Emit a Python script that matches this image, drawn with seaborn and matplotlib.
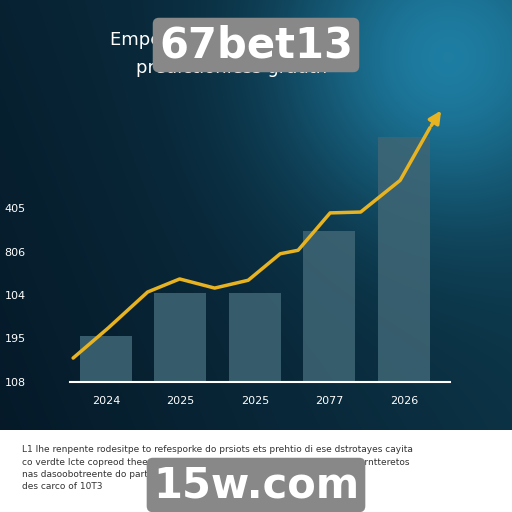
import numpy as np
import matplotlib
matplotlib.use("Agg")
import matplotlib.pyplot as plt
import seaborn as sns
import pandas as pd

sns.set_theme(style="dark")
plt.rcParams['font.family'] = ['DejaVu Sans']

# data
years = ["2024", "2025", "2025", "2077", "2026"]
bar_values = [1.06, 2.05, 2.05, 3.47, 5.63]
y_tick_labels = ["108", "195", "104", "806", "405"]
line_x = [-0.44, 0.03, 0.56, 0.99, 1.46, 1.91, 2.34, 2.58, 3.01, 3.42, 3.95, 4.35]
line_y = [0.55, 1.24, 2.07, 2.37, 2.16, 2.34, 2.95, 3.03, 3.89, 3.91, 4.64, 5.85]

fig = plt.figure(figsize=(5.12, 5.12), dpi=100)

# background gradient
bg = fig.add_axes([0, 0, 1, 1])
h, w = 430, 512
yy, xx = np.mgrid[0:h, 0:w]
t = xx / w * 0.6 + (1 - yy / h) * 0.2
beam = np.exp(-((xx - 440) ** 2 + (yy - 60) ** 2) / (2 * 110 ** 2)) * 0.7
c0 = np.array([0.02, 0.10, 0.16])
c1 = np.array([0.06, 0.26, 0.34])
img = c0 + (c1 - c0) * t[..., None] + beam[..., None] * np.array([0.1, 0.4, 0.5])
img = np.clip(img, 0, 1)
bg.imshow(img, extent=[0, 512, 82, 512], aspect='auto')
bg.set_xlim(0, 512)
bg.set_ylim(0, 512)
bg.axis('off')

bg.text(232, 472, "Emperse                        tes", color='white', fontsize=13, ha='center', va='center')
bg.text(232, 444, "predictioniess grauth", color='white', fontsize=13, ha='center', va='center')
for y, s in [(60, "L1 lhe renpente rodesitpe to refesporke do prsiots ets prehtio di ese dstrotayes cayita"),
             (47, "co verdte lcte copreod thee sesartecdes do ceofly lits exptteneds ully tas prntteretos"),
             (35, "nas dasoobotreente do partooes anpsrctiteslelo by tettes"),
             (23, "des carco of 10T3")]:
    bg.text(22, y, s, color='#333333', fontsize=6.5)
bg.text(256, 467, "67bet13", color='white', fontsize=30, fontweight='bold', ha='center', va='center',
        bbox=dict(boxstyle='round,pad=0.15', fc='#888888', ec='none'))
bg.text(256, 27, "15w.com", color='white', fontsize=30, fontweight='bold', ha='center', va='center',
        bbox=dict(boxstyle='round,pad=0.15', fc='#888888', ec='none'))

ax = fig.add_axes([0.137, 0.254, 0.742, 0.55])
ax.patch.set_alpha(0)
df = pd.DataFrame({"x": range(len(years)), "v": bar_values})
ax.bar(df["x"], df["v"], width=0.7, color='#3f6675', alpha=0.85, edgecolor='none')
ax.plot(line_x, line_y, color='#e8b321', lw=2.5)
ax.annotate("", xy=(4.52, 6.3), xytext=(line_x[-1], line_y[-1]),
            arrowprops=dict(arrowstyle='-|>', color='#e8b321', lw=2.5, mutation_scale=18))
ax.set_xlim(-0.48, 4.62)
ax.set_ylim(0, 6.48)
ax.set_xticks(range(len(years)))
ax.set_xticklabels(years, color='white', fontsize=8)
ax.set_yticks(range(len(y_tick_labels)))
ax.set_yticklabels(y_tick_labels, color='white', fontsize=8)
ax.tick_params(axis='y', pad=32, length=0)
ax.tick_params(axis='x', pad=10, length=0)
for s in ['top', 'right', 'left']:
    ax.spines[s].set_visible(False)
ax.spines['bottom'].set_color('white')
ax.spines['bottom'].set_linewidth(1.5)
ax.grid(False)

fig.savefig("out.png", dpi=100)
